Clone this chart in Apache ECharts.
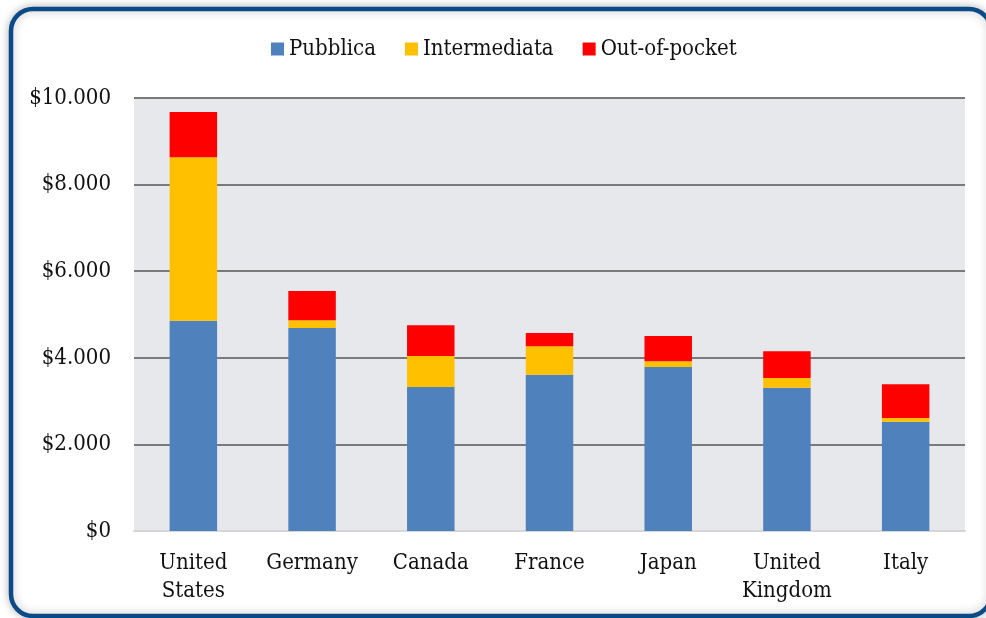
<!DOCTYPE html>
<html>
<head>
<meta charset="utf-8">
<script src="https://cdn.jsdelivr.net/npm/echarts@6/dist/echarts.min.js"></script>
<style>
html,body{margin:0;padding:0;background:#ffffff;}
#chart{width:986px;height:618px;}
</style>
</head>
<body>
<div id="chart"></div>
<script>
const categories = ['United\nStates', 'Germany', 'Canada', 'France', 'Japan', 'United\nKingdom', 'Italy'];
const pubblica = [4855, 4690, 3325, 3610, 3790, 3310, 2525];
const intermediata = [3775, 178, 717, 656, 130, 223, 86];
const outOfPocket = [1047, 675, 709, 307, 584, 617, 778];
const seriesNames = ['Pubblica', 'Intermediata', 'Out-of-pocket'];
const yTicks = [0, 2000, 4000, 6000, 8000, 10000];

const FONT = '"DejaVu Serif Condensed", "DejaVu Serif", serif';
const FS = 22;
const chart = echarts.init(document.getElementById('chart'));
function fmt(v) {
  return '$' + String(v).replace(/\B(?=(\d{3})+(?!\d))/g, '.');
}
chart.setOption({
  animation: false,
  textStyle: { fontFamily: FONT },
  graphic: [{
    type: 'rect',
    z: -100,
    shape: { x: 11, y: 9, width: 980, height: 607, r: 22 },
    style: { fill: '#ffffff', stroke: '#0b4a87', lineWidth: 4.5, shadowBlur: 10, shadowColor: 'rgba(0,0,0,0.25)' }
  }],
  legend: {
    left: 266,
    top: 33,
    itemWidth: 13,
    itemHeight: 13,
    itemGap: 29,
    icon: 'rect',
    textStyle: { fontFamily: FONT, fontSize: FS, color: '#111' },
    data: seriesNames
  },
  grid: { left: 134, right: 21, top: 98, bottom: 87, show: true, backgroundColor: '#e7e8ec', borderWidth: 0 },
  xAxis: {
    type: 'category',
    data: categories,
    axisTick: { show: false },
    axisLine: { show: true, lineStyle: { color: '#d6d6d6', width: 2 } },
    axisLabel: { fontFamily: FONT, fontSize: FS, color: '#111', lineHeight: 28, margin: 18, interval: 0 }
  },
  yAxis: {
    type: 'value',
    min: yTicks[0],
    max: yTicks[yTicks.length - 1],
    interval: 2000,
    axisLine: { show: false },
    axisTick: { show: false },
    splitLine: { lineStyle: { color: '#7a7a7a', width: 2 } },
    axisLabel: { fontFamily: FONT, fontSize: FS, color: '#111', margin: 23, formatter: fmt }
  },
  series: [
    { name: seriesNames[0], type: 'bar', stack: 'a', data: pubblica, barWidth: '40%', itemStyle: { color: '#4f81bd' } },
    { name: seriesNames[1], type: 'bar', stack: 'a', data: intermediata, itemStyle: { color: '#ffc000' } },
    { name: seriesNames[2], type: 'bar', stack: 'a', data: outOfPocket, itemStyle: { color: '#ff0000' } }
  ]
});
</script>
</body>
</html>
